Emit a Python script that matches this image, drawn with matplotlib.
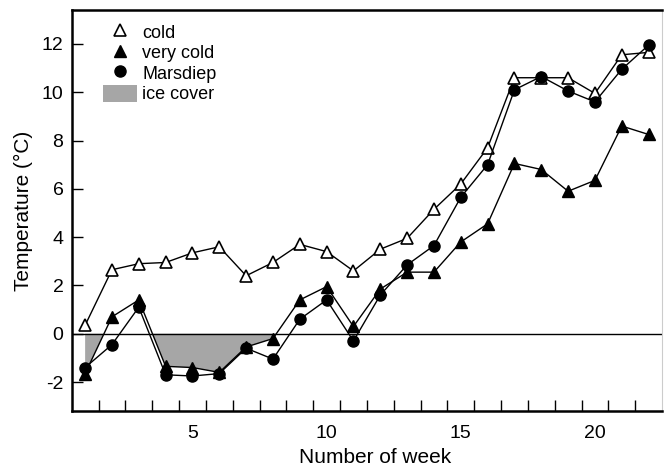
import numpy as np
import matplotlib.pyplot as plt
from matplotlib.patches import Patch
from matplotlib.lines import Line2D

plt.rcParams['font.family'] = ['Liberation Sans', 'DejaVu Sans']
plt.rcParams['axes.unicode_minus'] = False

# weekly mean water temperatures (deg C)
weeks = np.arange(1, 23)
cold = [0.35, 2.65, 2.9, 2.95, 3.35, 3.6, 2.4, 2.95, 3.7, 3.4, 2.6, 3.5,
        3.95, 5.15, 6.2, 7.7, 10.6, 10.6, 10.6, 9.95, 11.55, 11.65]
very_cold = [-1.65, 0.7, 1.4, -1.35, -1.4, -1.6, -0.55, -0.2, 1.4, 1.95, 0.3, 1.85,
             2.55, 2.55, 3.8, 4.55, 7.05, 6.8, 5.9, 6.35, 8.6, 8.25]
marsdiep = [-1.4, -0.45, 1.1, -1.7, -1.75, -1.65, -0.6, -1.05, 0.6, 1.4, -0.3, 1.6,
            2.85, 3.65, 5.65, 7.0, 10.1, 10.65, 10.05, 9.6, 10.95, 11.95]

fig = plt.figure(figsize=(6.64, 4.70), dpi=100)
ax = fig.add_axes([0.108, 0.1255, 0.889, 0.853])

ice_color = '#a6a6a6'
vc = np.array(very_cold)
ax.fill_between(weeks, 0, vc, where=vc < 0, interpolate=True,
                color=ice_color, linewidth=0, zorder=1)
ax.axhline(0, color='black', linewidth=1, zorder=2)

ax.plot(weeks, cold, color='black', linewidth=1, marker='^', markersize=8,
        markerfacecolor='white', markeredgecolor='black', markeredgewidth=1.2, zorder=3)
ax.plot(weeks, very_cold, color='black', linewidth=1, marker='^', markersize=8,
        markerfacecolor='black', markeredgecolor='black', zorder=4)
ax.plot(weeks, marsdiep, color='black', linewidth=1, marker='o', markersize=8,
        markerfacecolor='black', markeredgecolor='black', zorder=5)

ax.set_xlim(0.5, 22.5)
ax.set_ylim(-3.2, 13.4)

ax.set_yticks(np.arange(-2, 13, 2))
ax.set_xticks([5, 10, 15, 20])
ax.set_xticks(np.arange(1.5, 22.5, 1), minor=True)
ax.tick_params(axis='x', which='major', length=0, labelsize=14, pad=10)
ax.tick_params(axis='x', which='minor', direction='in', length=8, width=1)
ax.tick_params(axis='y', direction='in', length=8, width=1, labelsize=14, pad=6)

for side in ['left', 'bottom', 'top']:
    ax.spines[side].set_linewidth(1.8)
ax.spines['right'].set_color('#cccccc')
ax.spines['right'].set_linewidth(0.8)

ax.set_xlabel('Number of week', fontsize=15)
ax.xaxis.set_label_coords(0.514, -0.093)
ax.set_ylabel('Temperature (°C)', fontsize=15, labelpad=6)

handles = [
    Line2D([], [], linestyle='none', marker='^', markersize=8,
           markerfacecolor='white', markeredgecolor='black', markeredgewidth=1.2),
    Line2D([], [], linestyle='none', marker='^', markersize=8,
           markerfacecolor='black', markeredgecolor='black'),
    Line2D([], [], linestyle='none', marker='o', markersize=8,
           markerfacecolor='black', markeredgecolor='black'),
    Patch(facecolor=ice_color, edgecolor='none'),
]
labels = ['cold', 'very cold', 'Marsdiep', 'ice cover']
ax.legend(handles, labels, loc='upper left', frameon=False, fontsize=13,
          handlelength=1.9, handleheight=1.1, handletextpad=0.3,
          labelspacing=0.1, borderaxespad=0.3, bbox_to_anchor=(0.031, 1.0))

fig.savefig('out.png', dpi=100)
